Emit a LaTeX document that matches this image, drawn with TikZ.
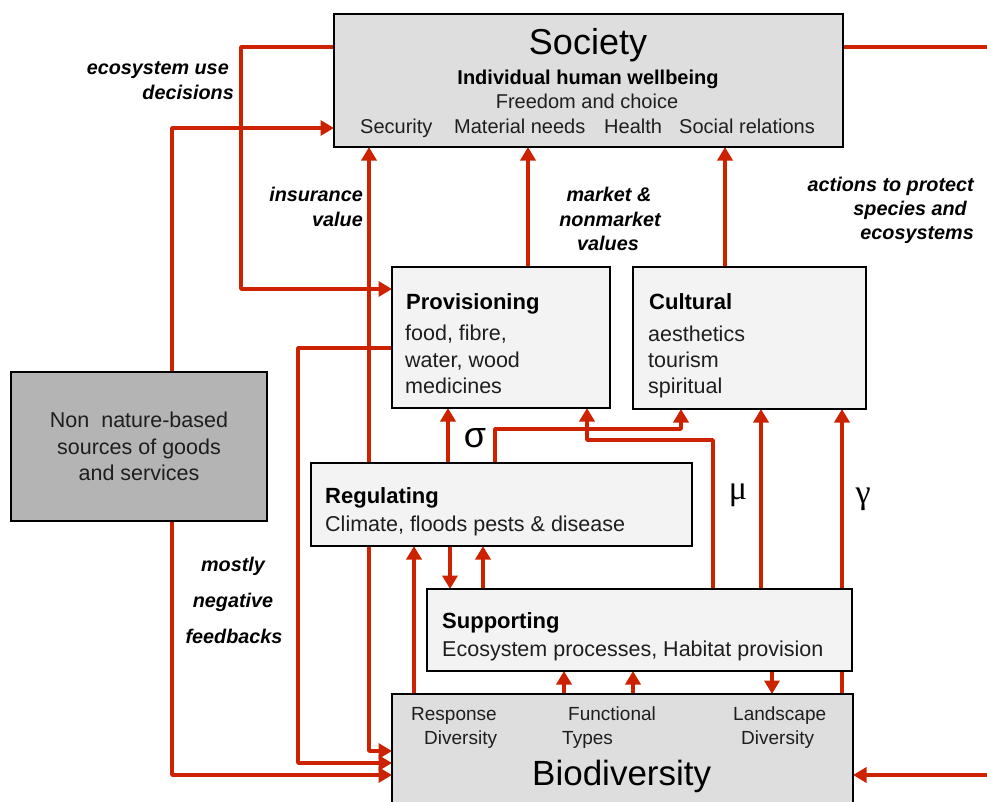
\documentclass[tikz,border=0pt]{standalone}
\usepackage{fontspec}
\setmainfont{Liberation Sans}
\newfontfamily\grserif{Liberation Serif}
\usetikzlibrary{arrows.meta,backgrounds}
\definecolor{arrred}{RGB}{204,34,0}
\definecolor{boxdark}{RGB}{222,222,222}
\definecolor{boxgray}{RGB}{180,180,180}
\definecolor{boxlight}{RGB}{243,243,243}
\definecolor{txtgray}{RGB}{30,30,30}
\begin{document}
\begin{tikzpicture}[x=1pt,y=-1pt,
  bx/.style={draw=black, line width=2.5pt, inner sep=0pt, outer sep=0pt, anchor=north west},
  redline/.style={draw=arrred, line width=3.5pt, line join=round},
  redarrow/.style={redline, -{Triangle[length=13.5pt,width=15pt]}},
  txl/.style={inner sep=0pt, anchor=base west},
  txc/.style={inner sep=0pt, anchor=base},
  txr/.style={inner sep=0pt, anchor=base east},
  bodyf/.style={font=\fontsize{21.5}{26}\selectfont, text=txtgray},
  headf/.style={font=\bfseries\fontsize{22}{26}\selectfont},
  socf/.style={font=\fontsize{20}{24}\selectfont, text=txtgray},
  biof/.style={font=\fontsize{19}{23}\selectfont, text=txtgray},
  lab/.style={font=\bfseries\itshape\fontsize{19.8}{23}\selectfont},
]
\useasboundingbox (0,0) rectangle (987,801);

% boxes
\node[bx, fill=boxdark, minimum width=509pt, minimum height=133pt] (soc) at (334,14) {};
\node[bx, fill=boxgray, minimum width=256pt, minimum height=149pt] (non) at (11,372) {};
\node[bx, fill=boxlight, minimum width=218pt, minimum height=141pt] (prov) at (392,267) {};
\node[bx, fill=boxlight, minimum width=233pt, minimum height=142pt] (cult) at (633,267) {};
\node[bx, fill=boxlight, minimum width=381pt, minimum height=83pt] (reg) at (311,463) {};
\node[bx, fill=boxlight, minimum width=425pt, minimum height=82pt] (sup) at (427,589) {};
\node[bx, fill=boxdark, minimum width=461pt, minimum height=130pt] (bio) at (392,694) {};

% helper coordinates
\foreach \xx in {172,241,298,369,414,448,450,483,495,528,564,587,633,681,713,725,761,772,842,987}
  \coordinate (x\xx) at (\xx,0);
\foreach \yy in {47,128,289,348,429,440,751,763,775}
  \coordinate (y\yy) at (0,\yy);

% connectors
\begin{scope}[on background layer]
\draw[redarrow] (soc.west |- y47) -- (x241 |- y47) -- (x241 |- y289) -- (prov.west |- y289);
\draw[redarrow] (non.north -| x172) -- (x172 |- y128) -- (soc.west |- y128);
\draw[redarrow] (non.south -| x172) -- (x172 |- y775) -- (bio.west |- y775);
\draw[redarrow] (prov.west |- y348) -- (x298 |- y348) -- (x298 |- y763) -- (bio.west |- y763);
\draw[redarrow] (reg.south -| x369) -- (x369 |- y751) -- (bio.west |- y751);
\draw[redarrow] (reg.north -| x369) -- (soc.south -| x369);
\draw[redarrow] (prov.north -| x528) -- (soc.south -| x528);
\draw[redarrow] (cult.north -| x725) -- (soc.south -| x725);
\draw[redline] (soc.east |- y47) -- (x987 |- y47);
\draw[redarrow] (x987 |- y775) -- (bio.east |- y775);
\draw[redarrow] (reg.north -| x448) -- (prov.south -| x448);
\draw[redarrow] (reg.north -| x495) -- (x495 |- y429) -- (x681 |- y429) -- (cult.south -| x681);
\draw[redarrow] (sup.north -| x713) -- (x713 |- y440) -- (x587 |- y440) -- (prov.south -| x587);
\draw[redarrow] (sup.north -| x761) -- (cult.south -| x761);
\draw[redarrow] (bio.north -| x842) -- (cult.south -| x842);
\draw[redarrow] (bio.north -| x414) -- (reg.south -| x414);
\draw[redarrow] (reg.south -| x450) -- (sup.north -| x450);
\draw[redarrow] (sup.north -| x483) -- (reg.south -| x483);
\draw[redarrow] (bio.north -| x564) -- (sup.south -| x564);
\draw[redarrow] (bio.north -| x633) -- (sup.south -| x633);
\draw[redarrow] (sup.south -| x772) -- (bio.north -| x772);
\end{scope}

% Society texts
\node[txc, font=\fontsize{36}{40}\selectfont] (socT) at (588,54) {Society};
\node[txc, font=\bfseries\fontsize{20}{24}\selectfont] (socI) at (588,84) {Individual human wellbeing};
\node[txc, socf] (socF) at (587,108) {Freedom and choice};
\node[txl, socf] (socS1) at (360,133) {Security};
\node[txl, socf] (socS2) at (454,133) {Material needs};
\node[txl, socf] (socS3) at (604,133) {Health};
\node[txl, socf] (socS4) at (679,133) {Social relations};

% Provisioning
\node[txl, headf] (provH) at (406,309) {Provisioning};
\node[txl, bodyf] (prov1) at (405,340) {food, fibre,};
\node[txl, bodyf] (prov2) at (405,367) {water, wood};
\node[txl, bodyf] (prov3) at (405,393) {medicines};

% Cultural
\node[txl, headf] (cultH) at (649,309) {Cultural};
\node[txl, bodyf] (cult1) at (648,341) {aesthetics};
\node[txl, bodyf] (cult2) at (648,367) {tourism};
\node[txl, bodyf] (cult3) at (648,393) {spiritual};

% Regulating
\node[txl, headf] (regH) at (325,503) {Regulating};
\node[txl, bodyf] (reg1) at (325,531) {Climate, floods pests \& disease};

% Supporting
\node[txl, headf] (supH) at (442,628) {Supporting};
\node[txl, bodyf] (sup1) at (442,656) {Ecosystem processes, Habitat provision};

% Non nature-based
\node[txc, bodyf] (non1) at (139,427) {Non\ \ nature-based};
\node[txc, bodyf] (non2) at (139,454) {sources of goods};
\node[txc, bodyf] (non3) at (139,480) {and services};

% Biodiversity
\node[txl, biof] (bio1a) at (411,720) {Response};
\node[txl, biof] (bio1b) at (424,744) {Diversity};
\node[txl, biof] (bio2a) at (568,720) {Functional};
\node[txl, biof] (bio2b) at (562,744) {Types};
\node[txl, biof] (bio3a) at (733,720) {Landscape};
\node[txl, biof] (bio3b) at (741,744) {Diversity};
\node[txl, font=\fontsize{35}{40}\selectfont] (bioT) at (532,785) {Biodiversity};

% connector labels
\node[txr, lab] (l1a) at (229,74) {ecosystem use};
\node[txr, lab] (l1b) at (234,99) {decisions};
\node[txr, lab] (l2a) at (363,201) {insurance};
\node[txr, lab] (l2b) at (363,226) {value};
\node[txc, lab] (l3a) at (609,201) {market \&};
\node[txc, lab] (l3b) at (610,226) {nonmarket};
\node[txc, lab] (l3c) at (608,250) {values};
\node[txr, lab] (l4a) at (974,191) {actions to protect};
\node[txr, lab] (l4b) at (967,215) {species and};
\node[txr, lab] (l4c) at (974,239) {ecosystems};
\node[txc, lab] (l5a) at (233,571) {mostly};
\node[txc, lab] (l5b) at (233,607) {negative};
\node[txc, lab] (l5c) at (234,643) {feedbacks};

% greek labels
\node[inner sep=0pt, font=\fontsize{36}{40}\selectfont] (sig) at (475,438) {σ};
\node[inner sep=0pt, font=\grserif\fontsize{34}{38}\selectfont] (mu) at (738,495) {μ};
\node[inner sep=0pt, font=\grserif\fontsize{34}{38}\selectfont] (gam) at (863,499) {γ};
\end{tikzpicture}
\end{document}
